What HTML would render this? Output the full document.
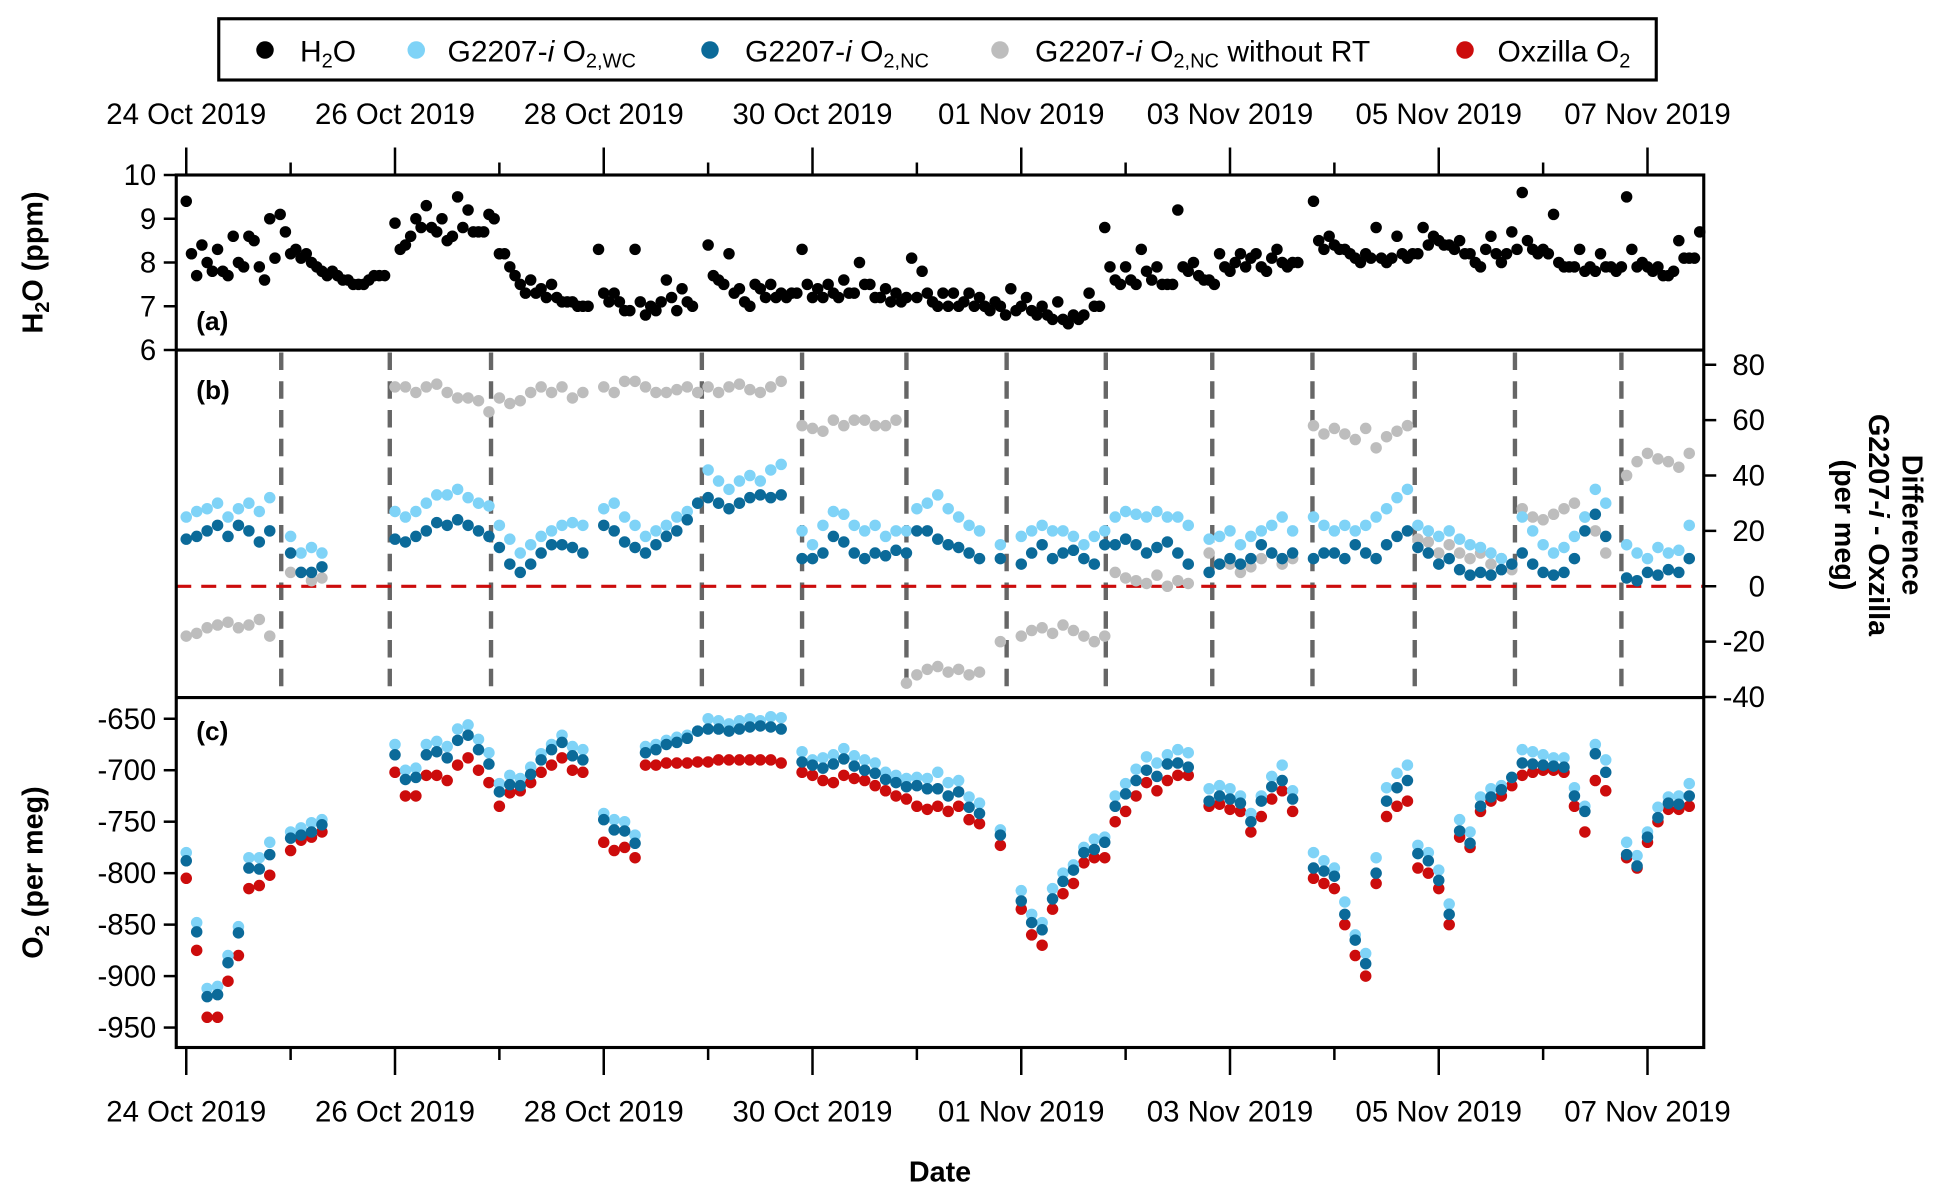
<!DOCTYPE html>
<html><head><meta charset="utf-8"><style>
html,body{margin:0;padding:0;background:#fff;}
svg{display:block;font-family:"Liberation Sans",Arial,sans-serif;}
</style></head><body>
<svg id="chart" width="1956" height="1198" viewBox="0 0 1564.8 958.4" xmlns="http://www.w3.org/2000/svg">
<g id="legend">
<rect x="175" y="15" width="1150" height="49" fill="#fff" stroke="#000" stroke-width="2.5"/>
<g><circle cx="212" cy="40" r="7" fill="#000"/><text x="240" y="49" font-size="24">H<tspan font-size="16" dy="5">2</tspan><tspan dy="-5">O</tspan></text></g>
<g><circle cx="333" cy="40" r="7" fill="#7fd3f7"/><text x="358" y="49" font-size="24">G2207-<tspan font-style="italic">i</tspan> O<tspan font-size="16" dy="5">2,WC</tspan></text></g>
<g><circle cx="568" cy="40" r="7" fill="#0b6a99"/><text x="596" y="49" font-size="24">G2207-<tspan font-style="italic">i</tspan> O<tspan font-size="16" dy="5">2,NC</tspan></text></g>
<g><circle cx="800" cy="40" r="7" fill="#bdbdbd"/><text x="828" y="49" font-size="24">G2207-<tspan font-style="italic">i</tspan> O<tspan font-size="16" dy="5">2,NC</tspan><tspan dy="-5"> without RT</tspan></text></g>
<g><circle cx="1172" cy="40" r="7" fill="#cc0c0c"/><text x="1198" y="49" font-size="24">Oxzilla O<tspan font-size="16" dy="5">2</tspan></text></g>
</g>
<g id="axes"></g>
<g id="marks"></g>
<g id="frame"></g>
</svg>
<script>
const dateLabels = ["24 Oct 2019","26 Oct 2019","28 Oct 2019","30 Oct 2019","01 Nov 2019","03 Nov 2019","05 Nov 2019","07 Nov 2019"];
const h2oTicks = [6,7,8,9,10];
const diffTicks = [-40,-20,0,20,40,60,80];
const o2Ticks = [-950,-900,-850,-800,-750,-700,-650];
const switchDays = [0.91,1.95,2.92,4.94,5.90,6.90,7.86,8.81,9.83,10.79,11.77,12.73,13.75];
const h2oStepDays = 0.05;
const h2oValues = [
9.4,8.2,7.7,8.4,8.0,7.8,8.3,7.8,7.7,8.6,8.0,7.9,8.6,8.5,7.9,7.6,9.0,8.1,9.1,8.7,8.2,8.3,8.1,8.2,8.0,7.9,7.8,7.7,7.8,7.7,7.6,7.6,7.5,7.5,7.5,7.6,7.7,7.7,7.7,null,
8.9,8.3,8.4,8.6,9.0,8.8,9.3,8.8,8.7,9.0,8.5,8.6,9.5,8.8,9.2,8.7,8.7,8.7,9.1,9.0,8.2,8.2,7.9,7.7,7.5,7.3,7.6,7.3,7.4,7.2,7.5,7.2,7.1,7.1,7.1,7.0,7.0,7.0,null,
8.3,7.3,7.1,7.3,7.1,6.9,6.9,8.3,7.1,6.8,7.0,6.9,7.1,7.6,7.2,6.9,7.4,7.1,7.0,null,null,
8.4,7.7,7.6,7.5,8.2,7.3,7.4,7.1,7.0,7.5,7.4,7.2,7.5,7.2,7.3,7.2,7.3,7.3,
8.3,7.5,7.2,7.4,7.2,7.5,7.3,7.2,7.6,7.3,7.3,8.0,7.5,7.5,7.2,7.2,7.4,7.1,7.3,7.1,7.2,8.1,7.2,7.8,7.3,7.1,7.0,7.3,7.0,7.3,7.0,7.1,7.3,7.0,7.2,7.0,6.9,7.1,7.0,6.8,7.4,6.9,7.0,7.2,6.9,6.8,7.0,6.8,6.7,7.1,6.7,6.6,6.8,6.7,6.8,
7.3,7.0,7.0,8.8,
7.9,7.6,7.5,7.9,7.6,7.5,8.3,7.8,7.6,7.9,7.5,7.5,7.5,9.2,7.9,7.8,8.0,7.7,7.6,7.6,7.5,
8.2,7.9,7.8,8.0,8.2,7.9,8.1,8.2,7.9,7.8,8.1,8.3,8.0,7.9,8.0,8.0,null,null,
9.4,8.5,8.3,8.6,8.4,8.3,8.3,8.2,8.1,8.0,8.2,8.1,8.8,8.1,8.0,8.1,8.6,8.2,8.1,8.2,8.2,
8.8,8.4,8.6,8.5,8.4,8.4,8.3,8.5,8.2,8.2,8.0,7.9,8.3,8.6,8.2,8.0,8.2,8.7,8.3,9.6,8.5,8.3,8.2,8.3,8.2,9.1,8.0,7.9,7.9,7.9,8.3,7.8,7.9,7.8,8.2,7.9,7.9,7.8,7.9,9.5,8.3,7.9,8.0,7.9,7.8,7.9,7.7,7.7,7.8,8.5,8.1,8.1,8.1,8.7];
const o2StepDays = 0.1;
const oxzillaO2 = [
-805,-875,-940,-940,-905,-880,-815,-812,-802,null,
-778,-768,-765,-760,null,null,null,null,null,null,
-702,-725,-725,-705,-705,-710,-695,-688,-700,-712,
-735,-722,-720,-712,-702,-695,-688,-700,-702,null,
-770,-778,-775,-785,-695,-695,-693,-693,-693,-692,
-692,-690,-690,-690,-690,-690,-690,-693,null,-702,
-705,-710,-712,-705,-708,-710,-715,-720,-725,-728,
-735,-738,-735,-740,-735,-748,-752,null,-773,null,
-835,-860,-870,-835,-820,-810,-790,-785,-785,-750,
-740,-725,-712,-720,-710,-705,-705,null,-735,-733,
-738,-740,-760,-745,-728,-720,-740,null,-805,-810,
-815,-850,-880,-900,-810,-745,-735,-730,-795,-800,
-815,-850,-765,-775,-740,-730,-725,-715,-705,-702,
-700,-700,-702,-735,-760,-710,-720,null,-785,-795,
-770,-750,-738,-738,-735];
const diffWC = [
25,27,28,30,25,28,30,27,32,null,
18,12,14,12,null,null,null,null,null,null,
27,25,27,30,33,33,35,32,30,29,
22,17,12,15,18,20,22,23,22,null,
28,30,25,22,18,20,22,25,27,30,
42,38,35,38,40,38,42,44,null,20,
15,22,27,26,22,20,22,18,20,20,
28,30,33,28,25,22,20,null,15,null,
18,20,22,20,20,18,15,18,20,25,
27,26,25,27,25,25,22,null,17,18,
20,15,18,20,22,25,20,null,25,22,
20,22,20,22,25,28,32,35,22,20,
18,20,17,15,14,12,10,8,25,20,
15,12,14,18,25,35,30,null,15,12,
10,14,12,13,22];
const diffNC = [
17,18,20,22,18,22,20,16,20,null,
12,5,5,7,null,null,null,null,null,null,
17,16,18,20,23,22,24,22,20,18,
14,8,5,8,12,15,15,14,12,null,
22,20,16,14,12,15,18,20,24,30,
32,30,28,30,32,33,32,33,null,10,
10,12,18,16,12,10,12,11,13,12,
20,20,17,15,14,12,10,null,10,null,
8,12,15,10,12,13,10,8,15,15,
17,15,12,14,16,12,8,null,5,8,
10,8,10,15,12,10,12,null,10,12,
12,10,15,12,10,15,18,20,14,12,
8,10,6,4,5,4,6,8,12,8,
5,4,5,10,20,26,18,null,3,2,
5,4,6,5,10];
const diffNoRT = [
-18,-17,-15,-14,-13,-15,-14,-12,-18,null,
5,5,2,3,null,null,null,null,null,null,
72,72,70,72,73,70,68,68,67,63,
68,66,67,70,72,70,72,68,70,null,
72,70,74,74,72,70,70,71,72,70,
72,70,72,73,71,70,72,74,null,58,
57,56,60,58,60,60,58,58,60,-35,
-32,-30,-29,-31,-30,-32,-31,null,-20,null,
-18,-16,-15,-17,-14,-16,-18,-20,-18,5,
3,2,1,4,0,2,1,null,12,8,
8,5,7,10,12,8,10,null,58,55,
57,55,53,57,50,54,56,58,17,16,
12,15,12,10,12,8,10,6,28,25,
24,26,28,30,25,20,12,null,40,45,
48,46,45,43,48];

const NS = "http://www.w3.org/2000/svg";
const X0 = 149, DAY = 83.5, L = 141, R = 1363;
const xOf = d => X0 + d * DAY;
const yA = v => 140 + (10 - v) * 35;
const yB = v => 469 - v * 2.215;
const yC = v => 575 + (-650 - v) * 0.8235;
function mk(tag, attrs, parent, txt){
  const e = document.createElementNS(NS, tag);
  for (const k in attrs) e.setAttribute(k, attrs[k]);
  if (txt !== undefined) e.textContent = txt;
  parent.appendChild(e); return e;
}
const axes = document.getElementById('axes');
const marks = document.getElementById('marks');
const frame = document.getElementById('frame');

// date ticks top & bottom
for (let d = 0; d <= 14; d++) {
  const x = xOf(d), major = d % 2 === 0;
  const t1 = mk('line', {x1:x, x2:x, y1: major?118:130, y2:140, stroke:'#000','stroke-width':2}, axes);
  
  
  const t2 = mk('line', {x1:x, x2:x, y1:838, y2: major?860:848, stroke:'#000','stroke-width':2}, axes);
  
  
  if (major) {
    const lab = dateLabels[d/2];
    const a = mk('text', {x:x, y:99, 'font-size':23.5, 'text-anchor':'middle'}, axes, lab);
    
    
    const b = mk('text', {x:x, y:897, 'font-size':23.5, 'text-anchor':'middle'}, axes, lab);
    
    
  }
}
// H2O axis
h2oTicks.forEach(v => {
  const y = yA(v);
  const t = mk('line', {x1:131, x2:L, y1:y, y2:y, stroke:'#000','stroke-width':2}, axes);
  
  
  const l = mk('text', {x:125, y:y+8, 'font-size':23.5, 'text-anchor':'end'}, axes, String(v));
  
  
});
diffTicks.forEach(v => {
  const y = yB(v);
  const t = mk('line', {x1:R, x2:1373, y1:y, y2:y, stroke:'#000','stroke-width':2}, axes);
  
  
  const l = mk('text', {x:1412, y:y+8, 'font-size':23.5, 'text-anchor':'end'}, axes, String(v));
  
  
});
o2Ticks.forEach(v => {
  const y = yC(v);
  const t = mk('line', {x1:131, x2:L, y1:y, y2:y, stroke:'#000','stroke-width':2}, axes);
  
  
  const l = mk('text', {x:125, y:y+8, 'font-size':23.5, 'text-anchor':'end'}, axes, String(v));
  
  
});
// axis titles
axes.insertAdjacentHTML('beforeend',
 '<text transform="translate(34,210) rotate(-90)" text-anchor="middle" font-size="23" font-weight="bold">H<tspan font-size="16" dy="5">2</tspan><tspan dy="-5">O (ppm)</tspan></text>' +
 '<text transform="translate(34,698) rotate(-90)" text-anchor="middle" font-size="23" font-weight="bold">O<tspan font-size="16" dy="5">2</tspan><tspan dy="-5"> (per meg)</tspan></text>' +
 '<g font-size="23" font-weight="bold" text-anchor="middle">' +
 '<text transform="translate(1522,420) rotate(90)">Difference</text>' +
 '<text transform="translate(1495,420) rotate(90)">G2207-<tspan font-style="italic">i</tspan> - Oxzilla</text>' +
 '<text transform="translate(1468,420) rotate(90)">(per meg)</text></g>' +
 '<text x="752" y="945" text-anchor="middle" font-size="23" font-weight="bold">Date</text>' +
 '<text x="157" y="264" font-size="21" font-weight="bold">(a)</text>' +
 '<text x="157" y="319" font-size="21" font-weight="bold">(b)</text>' +
 '<text x="157" y="592" font-size="21" font-weight="bold">(c)</text>');

// switch lines
switchDays.forEach(d => {
  const ln = mk('line', {x1:xOf(d), x2:xOf(d), y1:282, y2:557, stroke:'#666','stroke-width':3.5,'stroke-dasharray':'14 9'}, axes);
  
  
});
const zl = mk('line', {x1:L, x2:R, y1:yB(0), y2:yB(0), stroke:'#cc0c0c','stroke-width':2.5,'stroke-dasharray':'12 8'}, axes);



function dots(vals, step, yf, color, name){
  vals.forEach((v, i) => {
    if (v === null) return;
    const c = mk('circle', {cx:xOf(i*step), cy:yf(v), r:4.6, fill:color}, marks);
    
    
  });
}
dots(h2oValues, h2oStepDays, yA, '#000', 'h2o-point');
dots(diffNoRT, o2StepDays, yB, '#bdbdbd', 'diff-nc-without-rt-point');
dots(diffWC, o2StepDays, yB, '#7fd3f7', 'diff-wc-point');
dots(diffNC, o2StepDays, yB, '#0b6a99', 'diff-nc-point');
const o2WC = oxzillaO2.map((v,i) => (v===null||diffWC[i]===null) ? null : v + diffWC[i]);
const o2NC = oxzillaO2.map((v,i) => (v===null||diffNC[i]===null) ? null : v + diffNC[i]);
dots(oxzillaO2, o2StepDays, yC, '#cc0c0c', 'oxzilla-o2-point');
dots(o2WC, o2StepDays, yC, '#7fd3f7', 'o2-wc-point');
dots(o2NC, o2StepDays, yC, '#0b6a99', 'o2-nc-point');

// frame
const fr = mk('rect', {x:L, y:140, width:R-L, height:698, fill:'none', stroke:'#000','stroke-width':2.5}, frame);


[280, 558].forEach(y => {
  const s = mk('line', {x1:L, x2:R, y1:y, y2:y, stroke:'#000','stroke-width':2.5}, frame);
  
  
});
</script>
</body></html>
